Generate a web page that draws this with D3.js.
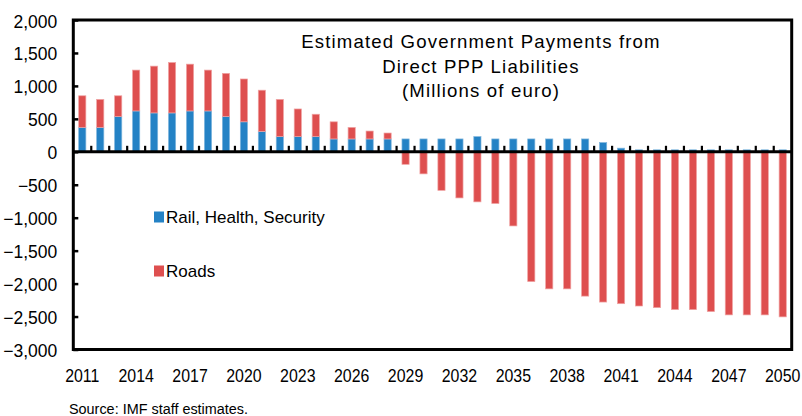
<!DOCTYPE html>
<html>
<head>
<meta charset="utf-8">
<script src="https://cdn.jsdelivr.net/npm/d3@7/dist/d3.min.js"></script>
<style>
  html, body { margin: 0; padding: 0; background: #fff; }
  svg { display: block; }
  text { font-family: "Liberation Sans", Arial, sans-serif; fill: #000; }
</style>
</head>
<body>
<svg id="chart" width="802" height="416"></svg>
<script>
const years = ["2011","2012","2013","2014","2015","2016","2017","2018","2019","2020",
  "2021","2022","2023","2024","2025","2026","2027","2028","2029","2030",
  "2031","2032","2033","2034","2035","2036","2037","2038","2039","2040",
  "2041","2042","2043","2044","2045","2046","2047","2048","2049","2050"];
const rail = [370,370,535,620,590,590,620,620,535,455,
  310,230,230,230,195,195,195,195,195,195,
  195,195,230,195,195,195,195,195,195,140,
  55,30,30,30,30,30,30,30,30,30];
const roads = [480,425,315,620,710,765,710,620,655,650,
  625,565,420,340,260,175,120,90,-190,-335,
  -585,-700,-760,-785,-1125,-1970,-2080,-2080,-2190,-2280,
  -2305,-2340,-2365,-2395,-2395,-2425,-2475,-2475,-2475,-2505];
const yTicks = [2000,1500,1000,500,0,-500,-1000,-1500,-2000,-2500,-3000];
const xLabels = ["2011","2014","2017","2020","2023","2026","2029","2032","2035","2038","2041","2044","2047","2050"];
const seriesNames = ["Rail, Health, Security","Roads"];
const titleLines = ["Estimated Government Payments from","Direct PPP Liabilities","(Millions of euro)"];
const sourceText = "Source: IMF staff estimates.";

const colors = {rail: "#2482C5", roads: "#DE4F4F"};
const strokes = {rail: "#7fb6dd", roads: "#f0a3a3"};

const svg = d3.select("#chart");
const L = 73.3, R = 791.7, T = 20, B = 349.5;

const x = d3.scaleBand().domain(years).range([L, R]).paddingInner(0.6).paddingOuter(0.3);
const y = d3.scaleLinear().domain([-3000, 2000]).range([B, T]);

const rows = years.map((yr, i) => ({year: yr, rail: rail[i], roads: roads[i]}));
const stacked = d3.stack().keys(["rail","roads"]).offset(d3.stackOffsetDiverging)(rows);

svg.append("g").selectAll("g").data(stacked).join("g")
  .attr("fill", d => colors[d.key])
  .attr("stroke", d => strokes[d.key])
  .attr("stroke-width", 0.7)
  .selectAll("rect").data(d => d).join("rect")
  .attr("x", d => x(d.data.year))
  .attr("width", x.bandwidth())
  .attr("y", d => y(Math.max(d[0], d[1])))
  .attr("height", d => Math.abs(y(d[0]) - y(d[1])));

// x ticks at category boundaries (upward from zero line)
const bounds = d3.range(1, years.length).map(i => x(years[i]) - (x.step() - x.bandwidth()) / 2);
svg.append("g").selectAll("line").data(bounds).join("line")
  .attr("x1", d => d).attr("x2", d => d)
  .attr("y1", y(0)).attr("y2", y(0) - 6)
  .attr("stroke", "#000").attr("stroke-width", 2.2);

// zero line
svg.append("line").attr("x1", L).attr("x2", R).attr("y1", y(0)).attr("y2", y(0))
  .attr("stroke", "#000").attr("stroke-width", 3);

// y axis ticks (inward) and labels
const yAxis = d3.axisLeft(y).tickValues(yTicks).tickSize(-5).tickPadding(14)
  .tickFormat(d3.format(","));
const gy = svg.append("g").attr("transform", `translate(${L},0)`).call(yAxis);
gy.select(".domain").remove();
gy.selectAll(".tick line").attr("stroke", "#000").attr("stroke-width", 2.5);
gy.selectAll(".tick text").attr("font-size", 17.5).attr("x", -16).attr("dy", "0.40em")
  .attr("font-family", "'Liberation Sans', Arial, sans-serif");

// x axis labels (slightly condensed)
const xAxis = d3.axisBottom(x).tickValues(xLabels).tickSize(0).tickPadding(0);
const gx = svg.append("g").attr("transform", `translate(0,${B})`).call(xAxis);
gx.select(".domain").remove();
gx.selectAll(".tick text").attr("font-size", 18.5).attr("dy", 0).attr("y", 32.5)
  .attr("transform", "scale(0.86,1)")
  .attr("font-family", "'Liberation Sans', Arial, sans-serif");

// plot border
svg.append("rect").attr("x", L).attr("y", T).attr("width", R - L).attr("height", B - T)
  .attr("fill", "none").attr("stroke", "#000").attr("stroke-width", 3);

// title
const tt = svg.append("text").attr("text-anchor", "middle").attr("font-size", 18.6)
  .attr("letter-spacing", 1.15);
titleLines.forEach((s, i) => {
  tt.append("tspan").attr("x", 481).attr("y", [47.7, 73.3, 97][i]).text(s);
});

// legend
const legY = [217, 271];
["rail","roads"].forEach((k, i) => {
  svg.append("rect").attr("x", 154).attr("y", legY[i] - 5.5).attr("width", 10).attr("height", 11)
    .attr("fill", colors[k]);
  svg.append("text").attr("x", 166).attr("y", legY[i] + 6).attr("font-size", 17).text(seriesNames[i]);
});

// source
svg.append("text").attr("transform", "translate(69,414) scale(0.93,1)")
  .attr("font-size", 15.5).text(sourceText);
</script>
</body>
</html>
